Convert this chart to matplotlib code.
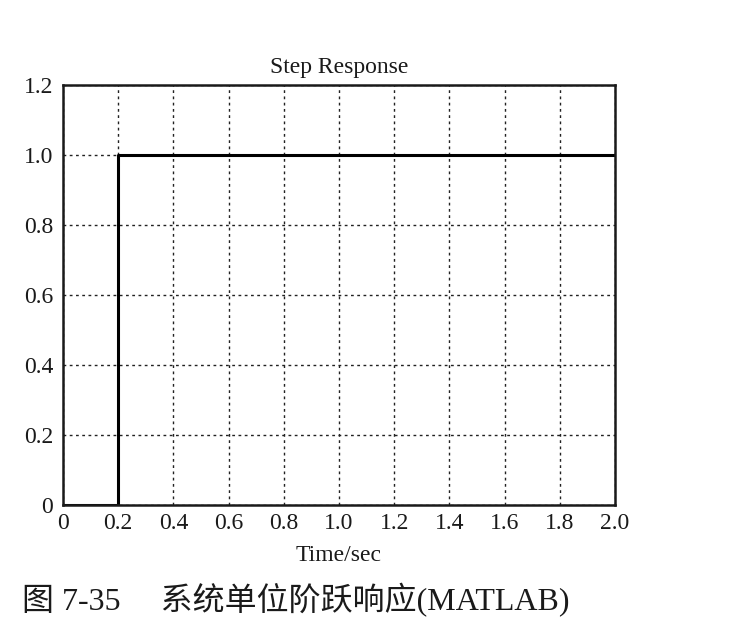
import numpy as np
import matplotlib.pyplot as plt

plt.rcParams['font.family'] = ['Liberation Serif', 'Noto Sans CJK SC', 'DejaVu Sans']

# step response samples (time, output)
t = [0.0, 0.2, 0.2, 2.0]
y = [0.0, 0.0, 1.0, 1.0]

x_ticks = [0, 0.2, 0.4, 0.6, 0.8, 1.0, 1.2, 1.4, 1.6, 1.8, 2.0]
x_labels = ['0', '0.2', '0.4', '0.6', '0.8', '1.0', '1.2', '1.4', '1.6', '1.8', '2.0']
y_ticks = [0, 0.2, 0.4, 0.6, 0.8, 1.0, 1.2]
y_labels = ['0', '0.2', '0.4', '0.6', '0.8', '1.0', '1.2']

fig = plt.figure(figsize=(7.4, 6.2), dpi=100)
ax = fig.add_axes([0.0851, 0.1855, 0.746, 0.6774])

ax.plot(t, y, color='black', linewidth=2.2)

ax.set_xlim(0, 2.0)
ax.set_ylim(0, 1.2)
ax.set_xticks(x_ticks)
ax.set_xticklabels(x_labels)
ax.set_yticks(y_ticks)
ax.set_yticklabels(y_labels)
ax.tick_params(length=0, labelsize=17, colors='#1a1a1a')
ax.tick_params(axis='x', pad=6)
ax.tick_params(axis='y', pad=7)

ax.grid(True, color='#222222', linestyle=(0, (2, 2.5)), linewidth=1.0)
for s in ax.spines.values():
    s.set_linewidth(1.8)
    s.set_color('#1a1a1a')

ax.set_title('Step Response', fontsize=17, pad=9, color='#1a1a1a')
ax.set_xlabel('Time/sec', fontsize=17, labelpad=8, color='#1a1a1a')

# figure caption at the bottom edge (cut off in the scan)
fig.text(0.03, 0.004, '图 7-35     系统单位阶跃响应(MATLAB)', fontsize=23,
         va='bottom', ha='left', color='#1a1a1a')

fig.savefig('out.png', dpi=100)
